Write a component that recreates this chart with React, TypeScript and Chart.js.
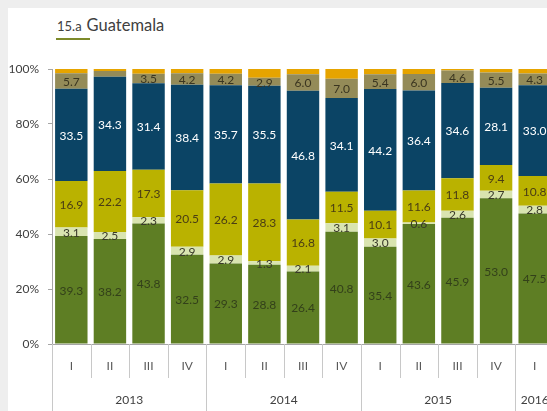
import React, { useEffect, useRef } from "react";
import { Chart, registerables } from "chart.js";

Chart.register(...registerables);

const quarters = ["I", "II", "III", "IV", "I", "II", "III", "IV", "I", "II", "III", "IV", "I"];
const years = ["2013", "2014", "2015", "2016"];
const yearSpans = [4, 4, 4, 1];
const yTickStep = 20;

const seriesGreen = [39.3, 38.2, 43.8, 32.5, 29.3, 28.8, 26.4, 40.8, 35.4, 43.6, 45.9, 53.0, 47.5];
const seriesPale = [3.1, 2.5, 2.3, 2.9, 2.9, 1.3, 2.1, 3.1, 3.0, 0.6, 2.6, 2.7, 2.8];
const seriesYellow = [16.9, 22.2, 17.3, 20.5, 26.2, 28.3, 16.8, 11.5, 10.1, 11.6, 11.8, 9.4, 10.8];
const seriesNavy = [33.5, 34.3, 31.4, 38.4, 35.7, 35.5, 46.8, 34.1, 44.2, 36.4, 34.6, 28.1, 33.0];
const seriesTan = [5.7, 2.1, 3.5, 4.2, 4.2, 2.9, 6.0, 7.0, 5.4, 6.0, 4.6, 5.5, 4.3];
const seriesOrange = [1.5, 0.7, 1.7, 1.5, 1.7, 3.2, 1.9, 3.5, 1.9, 1.8, 0.5, 1.3, 1.6];
const tanHiddenLabels = [1];

const FONT = 'Lato, "Open Sans", sans-serif';

const segLabels = {
  id: "segLabels",
  afterDatasetsDraw(chart: any) {
    const ctx = chart.ctx;
    ctx.save();
    ctx.font = `12px ${FONT}`;
    ctx.textAlign = "center";
    ctx.textBaseline = "middle";
    chart.data.datasets.forEach((ds: any, i: number) => {
      if (!ds.showLabels) return;
      const meta = chart.getDatasetMeta(i);
      ctx.fillStyle = ds.labelColor;
      meta.data.forEach((el: any, j: number) => {
        if (ds.hidden_labels && ds.hidden_labels.includes(j)) return;
        const v = ds.data[j];
        const p = el.getProps(["x", "y", "base"], true);
        ctx.fillText(Number(v).toFixed(1), p.x, (p.y + p.base) / 2 + 1);
      });
    });
    ctx.restore();
  },
};

const groupAxis = {
  id: "groupAxis",
  afterDraw(chart: any) {
    const ctx = chart.ctx;
    const xs = chart.scales.x;
    const n = quarters.length;
    const cw = (xs.getPixelForValue(n - 1) - xs.getPixelForValue(0)) / (n - 1);
    const top = xs.top;
    const bottom = chart.height;
    ctx.save();
    ctx.strokeStyle = "#c8c8c8";
    ctx.lineWidth = 1;
    const yearStarts: number[] = [];
    let acc = 0;
    yearSpans.forEach((s) => {
      yearStarts.push(acc);
      acc += s;
    });
    for (let i = 0; i <= n; i++) {
      const x = Math.round(xs.getPixelForValue(0) - cw / 2 + i * cw) + 0.5;
      const isYear = yearStarts.includes(i);
      ctx.beginPath();
      ctx.moveTo(x, top);
      ctx.lineTo(x, isYear ? bottom : top + 34);
      ctx.stroke();
    }
    ctx.fillStyle = "#404040";
    ctx.font = `12px ${FONT}`;
    ctx.textAlign = "center";
    ctx.textBaseline = "middle";
    years.forEach((yr, k) => {
      const a = yearStarts[k];
      const b = a + yearSpans[k] - 1;
      const cx = (xs.getPixelForValue(a) + xs.getPixelForValue(b)) / 2;
      ctx.fillText(yr, cx, top + 56);
    });
    ctx.restore();
  },
};

export default function App() {
  const ref = useRef<HTMLCanvasElement>(null);
  useEffect(() => {
    document.body.style.background = "#eeeeee";
    document.body.style.margin = "8px 0 0 8px";
    document.body.style.overflow = "hidden";
    document.documentElement.style.overflow = "hidden";
    const mk = (label: string, data: number[], color: string, labelColor: string | null, hidden?: number[]) => ({
      label,
      data,
      backgroundColor: color,
      borderWidth: 0,
      barPercentage: 0.84,
      categoryPercentage: 1,
      showLabels: labelColor !== null,
      labelColor,
      hidden_labels: hidden,
    });
    const chart = new Chart(ref.current as HTMLCanvasElement, {
      type: "bar",
      data: {
        labels: quarters,
        datasets: [
          mk("green", seriesGreen, "#5e7e24", "#33401a"),
          mk("pale", seriesPale, "#d9e4b0", "#3a3a2a"),
          mk("yellow", seriesYellow, "#bab200", "#4a3d14"),
          mk("navy", seriesNavy, "#0b4465", "#ffffff"),
          mk("tan", seriesTan, "#948b58", "#3a3520", tanHiddenLabels),
          mk("orange", seriesOrange, "#e6a400", null),
        ] as any,
      },
      options: {
        responsive: false,
        animation: false,
        devicePixelRatio: 1,
        layout: { padding: { top: 61, left: 0, right: 0, bottom: 0 } },
        plugins: { legend: { display: false }, tooltip: { enabled: false }, title: { display: false } },
        scales: {
          x: {
            stacked: true,
            grid: { display: false, drawTicks: false },
            border: { display: true, color: "#a6a6a6" },
            ticks: { color: "#595959", font: { family: FONT, size: 12 }, padding: 15, maxRotation: 0, autoSkip: false },
            afterFit: (s: any) => {
              s.height = 67;
            },
          },
          y: {
            stacked: true,
            min: 0,
            max: 100,
            grid: { drawOnChartArea: false, drawTicks: true, tickLength: 4, color: "#a6a6a6" },
            border: { display: true, color: "#a6a6a6" },
            ticks: {
              stepSize: yTickStep,
              padding: 9,
              color: "#404040",
              font: { family: FONT, size: 12 },
              callback: (v: any) => v + "%",
            },
            afterFit: (s: any) => {
              s.width = 44;
            },
          },
        },
      } as any,
      plugins: [segLabels, groupAxis],
    });
    return () => chart.destroy();
  }, []);
  return (
    <div style={{ position: "relative", width: 539, height: 403, overflow: "hidden", background: "#ffffff" }}>
      <div
        style={{
          position: "absolute",
          left: 49,
          top: 7,
          display: "flex",
          alignItems: "baseline",
          fontFamily: FONT,
          color: "#404040",
          whiteSpace: "nowrap",
        }}
      >
        <span style={{ fontSize: 13, marginRight: 5 }}>15.a</span>
        <span style={{ fontSize: 16.5 }}>Guatemala</span>
      </div>
      <div style={{ position: "absolute", left: 48, top: 30, width: 34, height: 2, background: "#7d8a2a" }} />
      <canvas ref={ref} width={546} height={403} style={{ position: "absolute", left: 0, top: 0, width: 546, height: 403 }} />
    </div>
  );
}
